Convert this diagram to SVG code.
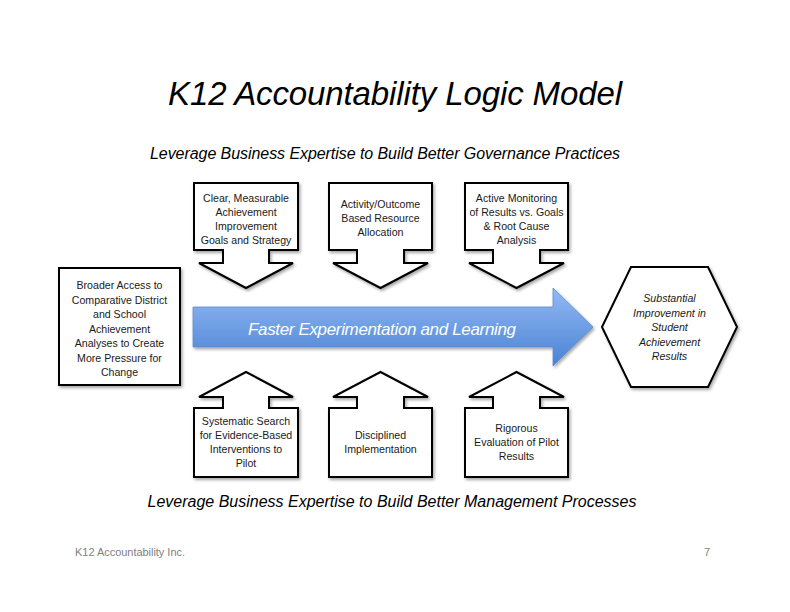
<svg xmlns="http://www.w3.org/2000/svg" width="790" height="612" viewBox="0 0 790 612">
<defs>
<linearGradient id="blueGrad" x1="0" y1="0" x2="0" y2="1">
<stop offset="0" stop-color="#93baf3"/>
<stop offset="1" stop-color="#4a82d4"/>
</linearGradient>
<filter id="shadow" x="-10%" y="-10%" width="130%" height="130%">
<feDropShadow dx="1.5" dy="2" stdDeviation="1.5" flood-color="#000" flood-opacity="0.35"/>
</filter>
<style>
.box{fill:#fff;stroke:#000;stroke-width:2;stroke-linejoin:miter;filter:url(#shadow)}
.t{font-family:"Liberation Sans",Arial,sans-serif;font-size:10.6px;fill:#1a1a1a;text-anchor:middle}
.ti{font-family:"Liberation Sans",Arial,sans-serif;font-size:10.6px;font-style:italic;fill:#1a1a1a;text-anchor:middle}
.head{font-family:"Liberation Sans",Arial,sans-serif;font-style:italic;fill:#000;text-anchor:middle}
.foot{font-family:"Liberation Sans",Arial,sans-serif;font-size:11px;fill:#7f7f7f}
</style>
</defs>
<rect width="790" height="612" fill="#fff"/>

<text class="head" x="395" y="105" font-size="33" textLength="454">K12 Accountability Logic Model</text>
<text class="head" x="385" y="159" font-size="16" textLength="470">Leverage Business Expertise to Build Better Governance Practices</text>
<text class="head" x="392" y="507" font-size="16" textLength="489">Leverage Business Expertise to Build Better Management Processes</text>

<g id="connectors">
<g id="flow-arrow">
<path d="M193,307 H553 V288 L593,327 L553,366 V347 H193 Z" fill="url(#blueGrad)" stroke="#5b8cd2" stroke-width="0.8" filter="url(#shadow)"/>
<text x="382" y="335" font-family="'Liberation Sans',Arial,sans-serif" font-size="17" font-style="italic" fill="#fff" text-anchor="middle" textLength="268">Faster Experimentation and Learning</text>
</g>
</g>

<g id="node-goals">
<path class="box" d="M194,183 H298 V250 H269 V263 H293 L246,288 L199,263 H223 V250 H194 Z"/>
<text class="t" x="246" y="202">Clear, Measurable</text>
<text class="t" x="246" y="216">Achievement</text>
<text class="t" x="246" y="230">Improvement</text>
<text class="t" x="246" y="244">Goals and Strategy</text>
</g>

<g id="node-resource">
<path class="box" d="M329,183 H432 V250 H404 V263 H428 L380.5,288 L333,263 H357 V250 H329 Z"/>
<text class="t" x="380.5" y="208">Activity/Outcome</text>
<text class="t" x="380.5" y="222">Based Resource</text>
<text class="t" x="380.5" y="236">Allocation</text>
</g>

<g id="node-monitoring">
<path class="box" d="M465,183 H568 V250 H540 V263 H564 L516.5,288 L469,263 H493 V250 H465 Z"/>
<text class="t" x="516.5" y="202">Active Monitoring</text>
<text class="t" x="516.5" y="216">of Results vs. Goals</text>
<text class="t" x="516.5" y="230">&amp; Root Cause</text>
<text class="t" x="516.5" y="244">Analysis</text>
</g>

<g id="node-access">
<rect class="box" x="59" y="268" width="121" height="117"/>
<text class="t" x="119.5" y="289">Broader Access to</text>
<text class="t" x="119.5" y="304">Comparative District</text>
<text class="t" x="119.5" y="318">and School</text>
<text class="t" x="119.5" y="333">Achievement</text>
<text class="t" x="119.5" y="347">Analyses to Create</text>
<text class="t" x="119.5" y="362">More Pressure for</text>
<text class="t" x="119.5" y="376">Change</text>
</g>

<g id="node-result">
<path class="box" d="M602,327 L631,267 H708 L737,327 L708,387 H631 Z"/>
<text class="ti" x="669.5" y="302">Substantial</text>
<text class="ti" x="669.5" y="317">Improvement in</text>
<text class="ti" x="669.5" y="331">Student</text>
<text class="ti" x="669.5" y="346">Achievement</text>
<text class="ti" x="669.5" y="360">Results</text>
</g>

<g id="node-search">
<path class="box" d="M194,477 H298 V408 H269 V397 H293 L246,372 L199,397 H223 V408 H194 Z"/>
<text class="t" x="246" y="425">Systematic Search</text>
<text class="t" x="246" y="439">for Evidence-Based</text>
<text class="t" x="246" y="453">Interventions to</text>
<text class="t" x="246" y="467">Pilot</text>
</g>

<g id="node-implementation">
<path class="box" d="M329,477 H432 V408 H404 V397 H428 L380.5,372 L333,397 H357 V408 H329 Z"/>
<text class="t" x="380.5" y="439">Disciplined</text>
<text class="t" x="380.5" y="453">Implementation</text>
</g>

<g id="node-evaluation">
<path class="box" d="M465,477 H568 V408 H540 V397 H564 L516.5,372 L469,397 H493 V408 H465 Z"/>
<text class="t" x="516.5" y="432">Rigorous</text>
<text class="t" x="516.5" y="446">Evaluation of Pilot</text>
<text class="t" x="516.5" y="460">Results</text>
</g>

<text class="foot" x="75" y="556" textLength="110">K12 Accountability Inc.</text>
<text class="foot" x="704" y="556">7</text>
</svg>
